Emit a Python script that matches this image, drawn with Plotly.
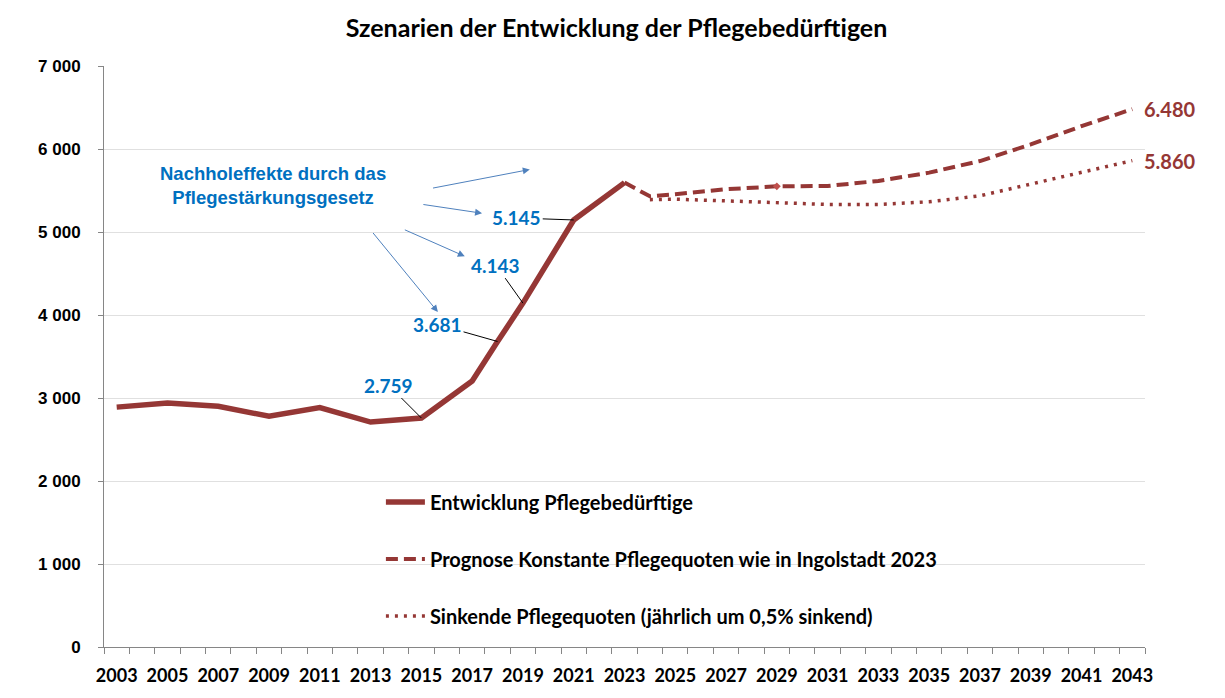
import plotly.graph_objects as go

# data
years_hist = [2003, 2005, 2007, 2009, 2011, 2013, 2015, 2017, 2018, 2019, 2021, 2023]
pflege_hist = [2890, 2940, 2900, 2780, 2885, 2710, 2759, 3205, 3681, 4143, 5145, 5595]

years_konst = [2023, 2024, 2025, 2027, 2029, 2031, 2033, 2035, 2037, 2039, 2041, 2043]
pflege_konst = [5595, 5430, 5455, 5515, 5550, 5555, 5615, 5715, 5855, 6055, 6275, 6480]

years_sink = [2024, 2025, 2027, 2029, 2031, 2033, 2035, 2037, 2039, 2041, 2043]
pflege_sink = [5390, 5395, 5375, 5356, 5332, 5332, 5364, 5436, 5576, 5716, 5860]

all_years = list(range(2003, 2044))
label_years = all_years[::2]

# labelled points on the history line: (year, value, label, ax, ay)
hist_labels = [
    (2015, 2759, "2.759", -33, -33),
    (2018, 3681, "3.681", -60, -17),
    (2019, 4143, "4.143", -27, -38),
    (2021, 5145, "5.145", -57, -2),
]

# blue arrows from the note (tail year, tail value, head year, head value)
note_arrows = [
    (2015.4, 5526, 2019.27, 5753),
    (2015.02, 5334, 2017.39, 5226),
    (2014.29, 5034, 2016.71, 4707),
    (2013.05, 5006, 2015.65, 4036),
]

RED = "#953735"
BLUE = "#0070C0"
CAL = "Lato, Open Sans, sans-serif"
ARIAL = "Liberation Sans, Arial, sans-serif"

fig = go.Figure()

fig.add_trace(go.Scatter(
    x=years_hist, y=pflege_hist, mode="lines",
    name="Entwicklung Pflegebedürftige",
    line=dict(color=RED, width=5.5),
    legendgroup="a",
))
fig.add_trace(go.Scatter(
    x=years_konst, y=pflege_konst, mode="lines",
    name="Prognose Konstante Pflegequoten wie in Ingolstadt 2023",
    line=dict(color=RED, width=4, dash="12px,6px"),
    legendgroup="b",
))
fig.add_trace(go.Scatter(
    x=years_sink, y=pflege_sink, mode="lines",
    name="Sinkende Pflegequoten (jährlich um 0,5% sinkend)",
    line=dict(color=RED, width=3.5, dash="3px,6px"),
    legendgroup="c",
))
# small marker on the dashed line at 2029
i29 = years_konst.index(2029)
fig.add_trace(go.Scatter(
    x=[years_konst[i29]], y=[pflege_konst[i29]], mode="markers",
    marker=dict(symbol="diamond", size=6, color="#C0504D"),
    showlegend=False, hoverinfo="skip",
))

# white box behind the legend (hides the grid there)
fig.add_shape(type="rect", xref="paper", yref="paper",
              x0=0.085, x1=0.997, y0=0.017, y1=0.283,
              fillcolor="white", line_width=0, layer="between")

for yr, val, txt, ax, ay in hist_labels:
    fig.add_annotation(
        x=yr, y=val, text="<b>%s</b>" % txt, showarrow=True,
        arrowhead=0, arrowwidth=1, arrowcolor="black",
        ax=ax, ay=ay, font=dict(family=CAL, size=19, color=BLUE),
    )

for x0, y0, x1, y1 in note_arrows:
    fig.add_annotation(
        x=x1, y=y1, ax=x0, ay=y0, axref="x", ayref="y",
        text="", showarrow=True, arrowhead=2, arrowsize=1.4,
        arrowwidth=1, arrowcolor="#4F81BD",
    )

fig.add_annotation(
    x=2009.17, y=5564, text="<b>Nachholeffekte durch das<br>Pflegestärkungsgesetz</b>",
    showarrow=False, font=dict(family=ARIAL, size=18.5, color=BLUE),
)

fig.add_annotation(x=years_konst[-1], y=pflege_konst[-1], text="<b>6.480</b>",
                   showarrow=False, xanchor="left", xshift=10,
                   font=dict(family=CAL, size=20, color=RED))
fig.add_annotation(x=years_sink[-1], y=pflege_sink[-1], text="<b>5.860</b>",
                   showarrow=False, xanchor="left", xshift=10,
                   font=dict(family=CAL, size=20, color=RED))

# page body adds 8px margin, so the figure is 8px smaller and margins shifted
fig.update_layout(
    width=1217, height=690,
    margin=dict(l=96, r=80, t=58, b=43),
    paper_bgcolor="white", plot_bgcolor="white",
    separators=", ",
    title=dict(text="<b>Szenarien der Entwicklung der Pflegebedürftigen</b>",
               x=0.5, xanchor="center", y=0.971, yanchor="middle",
               font=dict(family=CAL, size=25, color="black")),
    showlegend=True,
    legend=dict(x=0.266, y=0.283, xanchor="left", yanchor="top",
                bgcolor="rgba(0,0,0,0)", traceorder="grouped",
                tracegroupgap=28, itemwidth=39,
                font=dict(family=CAL, size=20, color="black", weight="bold")),
)

fig.update_xaxes(
    range=[all_years[0] - 0.5, all_years[-1] + 0.5],
    tickvals=label_years, ticktext=[str(y) for y in label_years],
    ticks="", showgrid=False, zeroline=False,
    showline=True, linecolor="#868686", linewidth=1,
    ticklabelstandoff=12,
    tickfont=dict(family=CAL, size=18, color="black", weight="bold"),
    minor=dict(tickvals=[y - 0.5 for y in all_years] + [all_years[-1] + 0.5],
               ticks="outside", ticklen=6, tickcolor="#868686", showgrid=False),
)
fig.update_yaxes(
    range=[0, 7000], dtick=1000, tickformat=",d",
    showgrid=True, gridcolor="#E0E0E0", gridwidth=1, zeroline=False,
    showline=True, linecolor="#868686", linewidth=1,
    ticks="outside", ticklen=5, tickcolor="#868686",
    ticklabelstandoff=14,
    tickfont=dict(family=ARIAL, size=17, color="black", weight="bold"),
)

fig.write_html("out.html")
